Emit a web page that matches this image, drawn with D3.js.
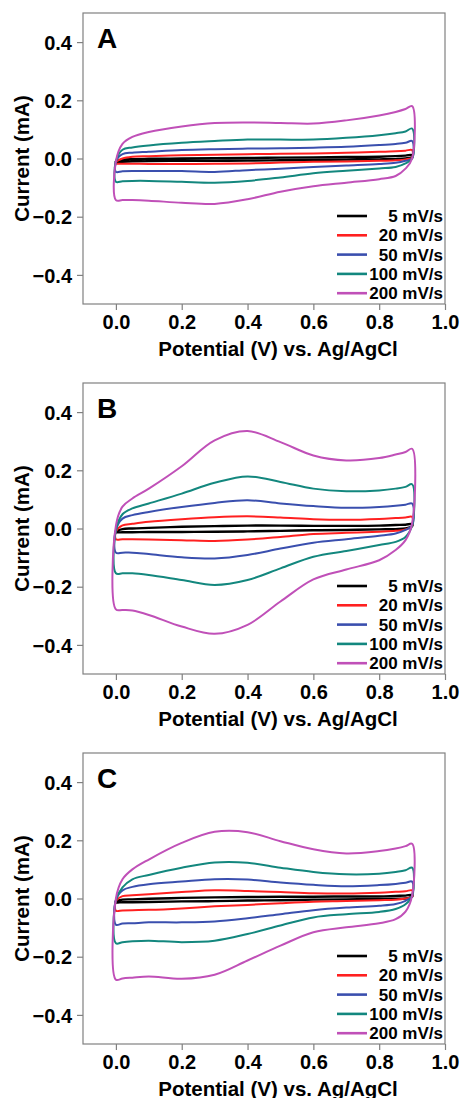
<!DOCTYPE html>
<html>
<head>
<meta charset="UTF-8">
<script src="https://d3js.org/d3.v7.min.js"></script>
<style>
  body { margin: 0; background: #fff; }
  svg text { font-family: "Liberation Sans", Arial, sans-serif; font-weight: bold; }
</style>
</head>
<body>
<svg></svg>
<script>
let width = 463, height = 1098;

// potential grid (V) shared by every branch
const potential = [0, 0.02, 0.05, 0.1, 0.2, 0.3, 0.4, 0.5, 0.6, 0.7, 0.8, 0.85, 0.88, 0.9];

const rates = ["5 mV/s", "20 mV/s", "50 mV/s", "100 mV/s", "200 mV/s"];
const colors = ["#000000", "#ff2020", "#3a4fae", "#13877e", "#c050b8"];
const panelLabels = ["A", "B", "C"];
const xTicks = [0.0, 0.2, 0.4, 0.6, 0.8, 1.0];
const yTicks = [-0.4, -0.2, 0.0, 0.2, 0.4];

// current (mA), anodic (forward) and cathodic (reverse) branches, read on the grid above
const upperA = [
  [-0.01, -0.004, -0.002, -0.001, 0.0, 0.001, 0.002, 0.003, 0.004, 0.005, 0.006, 0.008, 0.01, 0.012],
  [-0.012, 0.0, 0.006, 0.008, 0.011, 0.013, 0.015, 0.016, 0.017, 0.02, 0.023, 0.025, 0.027, 0.029],
  [-0.01, 0.015, 0.02, 0.023, 0.029, 0.032, 0.034, 0.035, 0.037, 0.04, 0.046, 0.05, 0.054, 0.06],
  [-0.01, 0.03, 0.038, 0.045, 0.054, 0.06, 0.065, 0.065, 0.065, 0.071, 0.08, 0.087, 0.093, 0.103],
  [-0.01, 0.05, 0.074, 0.091, 0.11, 0.122, 0.124, 0.122, 0.12, 0.131, 0.148, 0.16, 0.17, 0.18]
];
const lowerA = [
  [-0.012, -0.011, -0.01, -0.009, -0.008, -0.008, -0.007, -0.006, -0.005, -0.004, -0.003, -0.002, 0.0, 0.005],
  [-0.017, -0.018, -0.018, -0.019, -0.019, -0.018, -0.017, -0.014, -0.011, -0.01, -0.008, -0.006, -0.003, 0.003],
  [-0.046, -0.044, -0.043, -0.043, -0.043, -0.046, -0.04, -0.035, -0.029, -0.024, -0.019, -0.015, -0.008, 0.0],
  [-0.08, -0.078, -0.077, -0.077, -0.08, -0.083, -0.077, -0.065, -0.051, -0.042, -0.034, -0.029, -0.017, 0.0],
  [-0.143, -0.143, -0.143, -0.145, -0.152, -0.156, -0.14, -0.114, -0.095, -0.083, -0.071, -0.06, -0.035, 0.0]
];

const upperB = [
  [-0.012, -0.002, 0.0, 0.002, 0.006, 0.008, 0.01, 0.01, 0.009, 0.009, 0.01, 0.012, 0.013, 0.015],
  [-0.01, 0.011, 0.016, 0.023, 0.032, 0.039, 0.042, 0.038, 0.032, 0.03, 0.033, 0.036, 0.038, 0.04],
  [-0.005, 0.034, 0.046, 0.057, 0.074, 0.088, 0.097, 0.086, 0.077, 0.071, 0.074, 0.078, 0.082, 0.086],
  [-0.005, 0.049, 0.069, 0.086, 0.12, 0.157, 0.179, 0.16, 0.137, 0.128, 0.131, 0.137, 0.143, 0.152],
  [0.01, 0.075, 0.103, 0.137, 0.214, 0.303, 0.335, 0.297, 0.251, 0.234, 0.242, 0.254, 0.263, 0.274]
];
const lowerB = [
  [-0.013, -0.013, -0.013, -0.012, -0.012, -0.011, -0.01, -0.008, -0.006, -0.005, -0.003, -0.002, 0.0, 0.008],
  [-0.037, -0.037, -0.037, -0.038, -0.04, -0.043, -0.038, -0.029, -0.019, -0.015, -0.011, -0.008, -0.003, 0.008],
  [-0.083, -0.083, -0.083, -0.088, -0.099, -0.103, -0.091, -0.069, -0.049, -0.037, -0.025, -0.017, -0.005, 0.01],
  [-0.154, -0.154, -0.154, -0.16, -0.177, -0.194, -0.177, -0.137, -0.097, -0.077, -0.057, -0.046, -0.029, 0.01],
  [-0.278, -0.28, -0.282, -0.297, -0.337, -0.362, -0.331, -0.251, -0.175, -0.141, -0.109, -0.074, -0.04, 0.017]
];

const upperC = [
  [-0.01, -0.004, -0.003, -0.001, 0.002, 0.004, 0.005, 0.006, 0.006, 0.007, 0.007, 0.009, 0.01, 0.012],
  [-0.01, 0.008, 0.011, 0.015, 0.022, 0.028, 0.026, 0.022, 0.018, 0.017, 0.02, 0.023, 0.025, 0.028],
  [-0.005, 0.028, 0.04, 0.049, 0.058, 0.066, 0.065, 0.055, 0.047, 0.042, 0.046, 0.05, 0.054, 0.058],
  [-0.005, 0.038, 0.066, 0.081, 0.106, 0.124, 0.123, 0.106, 0.091, 0.083, 0.085, 0.091, 0.097, 0.106],
  [0.0, 0.066, 0.1, 0.134, 0.191, 0.229, 0.228, 0.197, 0.169, 0.155, 0.163, 0.172, 0.18, 0.188]
];
const lowerC = [
  [-0.013, -0.013, -0.013, -0.012, -0.01, -0.009, -0.007, -0.006, -0.004, -0.003, -0.002, -0.001, 0.0, 0.006],
  [-0.042, -0.041, -0.04, -0.039, -0.034, -0.027, -0.022, -0.016, -0.011, -0.009, -0.006, -0.004, 0.0, 0.006],
  [-0.09, -0.086, -0.085, -0.082, -0.082, -0.079, -0.068, -0.054, -0.04, -0.031, -0.025, -0.019, -0.008, 0.008],
  [-0.154, -0.15, -0.147, -0.145, -0.15, -0.145, -0.122, -0.093, -0.065, -0.054, -0.046, -0.036, -0.02, 0.01],
  [-0.279, -0.275, -0.272, -0.268, -0.276, -0.262, -0.213, -0.162, -0.116, -0.099, -0.085, -0.071, -0.045, 0.01]
];

const panels = [
  { label: panelLabels[0], upper: upperA, lower: lowerA },
  { label: panelLabels[1], upper: upperB, lower: lowerB },
  { label: panelLabels[2], upper: upperC, lower: lowerC }
];

let svg = d3.select("svg").attr("width", width).attr("height", height);

const left = 83, right = 445, plotH = 291, panelTops = [13, 383, 753];

let x = d3.scaleLinear().domain([-0.1, 1.0]).range([left, right]);

panels.forEach((p, pi) => {
  let top = panelTops[pi];
  let y = d3.scaleLinear().domain([-0.5, 0.5]).range([top + plotH, top]);
  let g = svg.append("g");

  // frame
  g.append("rect")
    .attr("x", left).attr("y", top)
    .attr("width", right - left).attr("height", plotH)
    .attr("fill", "none").attr("stroke", "#808080").attr("stroke-width", 1.2);

  // axes
  let xAxis = g.append("g")
    .attr("transform", "translate(0," + (top + plotH) + ")")
    .call(d3.axisBottom(x).tickValues(xTicks).tickFormat(d3.format(".1f")).tickSize(6).tickPadding(5));
  let yAxis = g.append("g")
    .attr("transform", "translate(" + left + ",0)")
    .call(d3.axisLeft(y).tickValues(yTicks).tickFormat(d3.format(".1f")).tickSize(6).tickPadding(5));
  [xAxis, yAxis].forEach(a => {
    a.select(".domain").remove();
    a.selectAll(".tick line").attr("stroke", "#808080").attr("stroke-width", 1.2);
    a.selectAll(".tick text").attr("fill", "#000").style("font-size", "20px");
  });
  yAxis.selectAll(".tick text").attr("dy", "0.36em");

  // titles
  g.append("text")
    .attr("x", 278).attr("y", top + 343)
    .attr("text-anchor", "middle")
    .style("font-size", "20.5px")
    .text("Potential (V) vs. Ag/AgCl");
  g.append("text")
    .attr("transform", "translate(29," + (top + plotH / 2) + ") rotate(-90)")
    .attr("text-anchor", "middle")
    .style("font-size", "20.5px")
    .text("Current (mA)");
  g.append("text")
    .attr("x", 97).attr("y", top + 35)
    .style("font-size", "28px")
    .text(p.label);

  // CV loops
  let line = d3.line()
    .x(d => x(d[0])).y(d => y(d[1]))
    .curve(d3.curveCatmullRomClosed.alpha(0.5));
  rates.forEach((r, i) => {
    let up = potential.map((e, k) => [e, p.upper[i][k]]);
    let lo = potential.map((e, k) => [e, p.lower[i][k]]).reverse();
    g.append("path")
      .attr("d", line(up.concat(lo)))
      .attr("fill", "none")
      .attr("stroke", colors[i])
      .attr("stroke-width", i == 0 ? 2.4 : 2)
      .attr("stroke-linejoin", "round");
  });

  // legend
  let leg = g.append("g");
  rates.forEach((r, i) => {
    let ly = top + 203 + i * 19.3;
    leg.append("line")
      .attr("x1", 337).attr("x2", 367)
      .attr("y1", ly).attr("y2", ly)
      .attr("stroke", colors[i]).attr("stroke-width", 2.6);
    leg.append("text")
      .attr("x", 443).attr("y", ly + 6)
      .attr("text-anchor", "end")
      .style("font-size", "17px")
      .text(r);
  });
});
</script>
</body>
</html>
